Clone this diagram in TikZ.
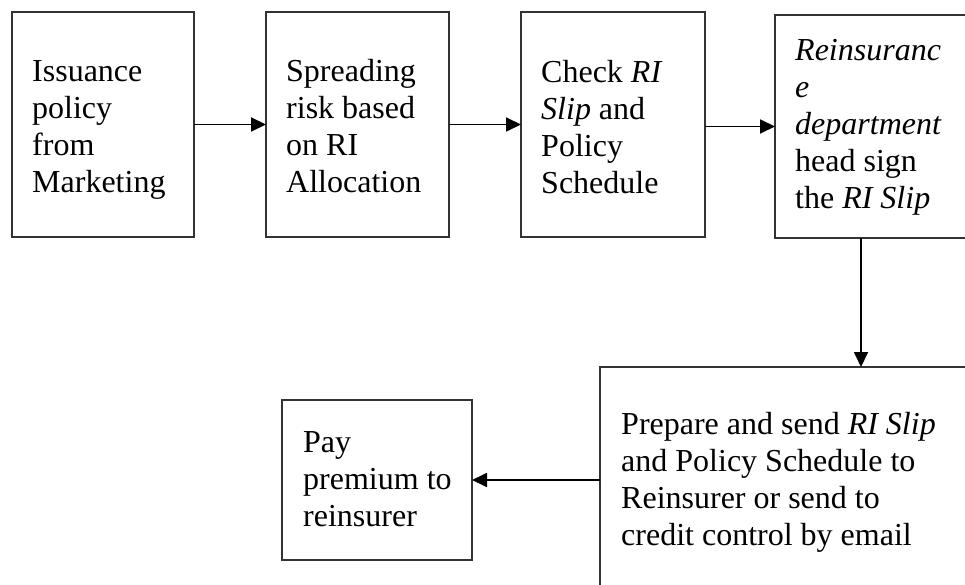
\documentclass[tikz,border=0pt]{standalone}
\usepackage{fontspec}
\setmainfont{Liberation Serif}
\usetikzlibrary{arrows.meta}
\begin{document}
\begin{tikzpicture}[x=1pt,y=-1pt,
  box/.style={draw=black!80,line width=1.3pt,rectangle,inner sep=0pt,outer sep=0pt,anchor=north west},
  lbl/.style={inner sep=0pt,anchor=north west,align=left,font=\fontsize{32}{37}\selectfont},
  arr/.style={line width=1.8pt,-{Triangle[length=15pt,width=14pt]}}]
\useasboundingbox (0,0) rectangle (965,585);
\clip (0,0) rectangle (965,585);
\fill[white] (0,0) rectangle (965,585);
% boxes
\node[box,minimum width=182pt,minimum height=225pt] (b1) at (12,12) {};
\node[box,minimum width=183pt,minimum height=225pt] (b2) at (266,12) {};
\node[box,minimum width=184pt,minimum height=225pt] (b3) at (521,12) {};
\node[box,minimum width=200pt,minimum height=223pt] (b4) at (775,15) {};
\node[box,minimum width=400pt,minimum height=250pt] (b5) at (600,367) {};
\node[box,minimum width=190pt,minimum height=160pt] (b6) at (282,400) {};
% texts
\node[lbl] (t1) at (32,55) {\strut Issuance\\policy\\from\\Marketing};
\node[lbl] (t2) at (286,55) {\strut Spreading\\risk based\\on RI\\Allocation};
\node[lbl] (t3) at (541,56) {\strut Check \textit{RI}\\\textit{Slip} and\\Policy\\Schedule};
\node[lbl] (t4) at (795,34) {\strut\textit{Reinsuranc}\\\textit{e}\\\textit{department}\\head sign\\the \textit{RI Slip}};
\node[lbl] (t5) at (621,408) {\strut Prepare and send \textit{RI Slip}\\and Policy Schedule to\\Reinsurer or send to\\credit control by email};
\node[lbl] (t6) at (303,426) {\strut Pay\\premium to\\reinsurer};
% connectors
\coordinate (vx) at (861,0);
\draw[arr] (b1.east) -- (b2.west);
\draw[arr] (b2.east) -- (b3.west);
\draw[arr] (b4.west -| b3.east) -- (b4.west);
\draw[arr] (b4.south -| vx) -- (b5.north -| vx);
\draw[arr] (b6.east -| b5.west) -- (b6.east);
\end{tikzpicture}
\end{document}
